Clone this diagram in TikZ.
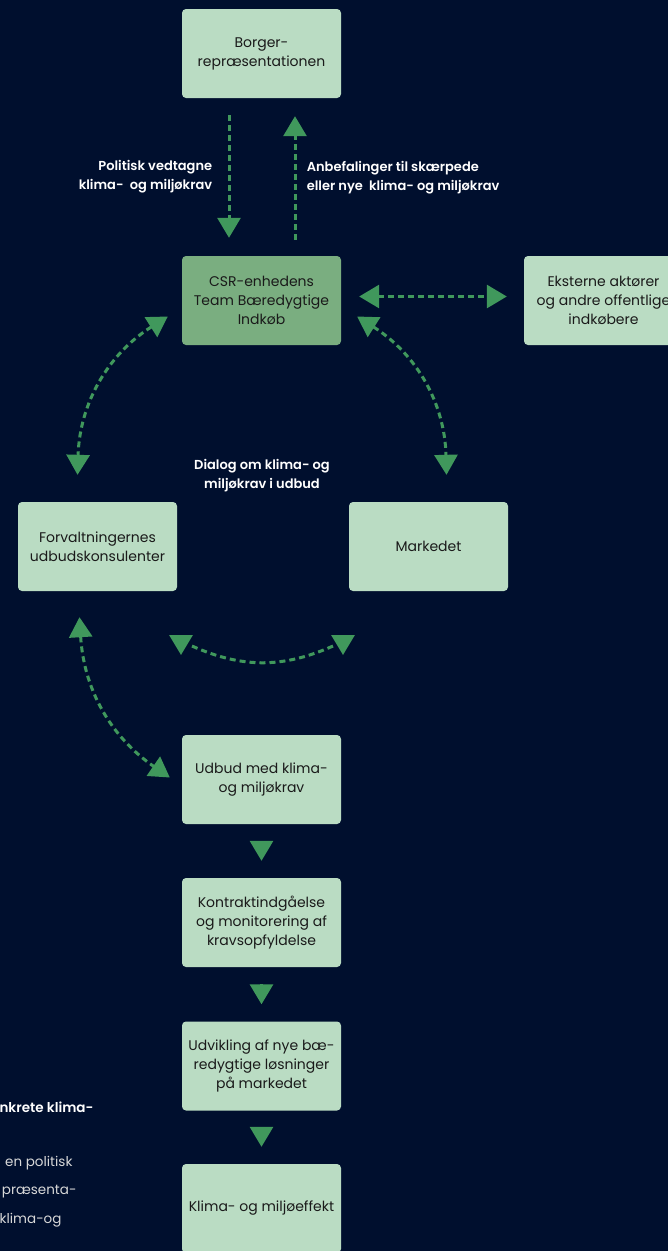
\documentclass[tikz,border=0pt]{standalone}
\usepackage{fontspec}
\setmainfont{Poppins}[BoldFont=Poppins SemiBold]
\usetikzlibrary{arrows.meta}

\definecolor{bgnavy}{HTML}{000F2E}
\definecolor{boxgreen}{HTML}{BADCC3}
\definecolor{csrgreen}{HTML}{7AAE80}
\definecolor{arrowgreen}{HTML}{40985C}
\definecolor{boxtext}{HTML}{1A1A1A}
\definecolor{notegray}{HTML}{D8D8D8}

\begin{document}
\begin{tikzpicture}[x=1pt, y=-1pt, >={Triangle[length=20pt,width=23pt]},
    box/.style={rectangle, rounded corners=4pt, fill=boxgreen, minimum width=159pt, minimum height=89pt, align=center, text=boxtext, font=\fontsize{14}{19}\selectfont},
    lbl/.style={text=white, font=\bfseries\fontsize{13}{19}\selectfont},
    dialog/.style={draw=arrowgreen, line width=3pt, dash pattern=on 6pt off 4pt},
    flowstep/.style={draw=arrowgreen, line width=3pt, ->, shorten <=17pt, shorten >=17pt},
    arrowhead/.style={draw=arrowgreen, line width=3pt, ->}]
        \fill[bgnavy] (0,0) rectangle (668,1251);
        \useasboundingbox (0,0) rectangle (668,1251);

        \node[box] (borger) at (261.5, 53.5) {Borger-\\repræsentationen};
        \node[box, fill=csrgreen] (csr) at (261.5, 300.5) {CSR-enhedens\\Team Bæredygtige\\Indkøb};
        \node[box] (eksterne) at (603.5, 300.5) {Eksterne aktører\\og andre offentlige\\indkøbere};
        \node[box] (forvalt) at (97.5, 546.5) {Forvaltningernes\\udbudskonsulenter};
        \node[box] (markedet) at (428.5, 546.5) {Markedet};
        \node[box] (udbud) at (261.5, 779.5) {Udbud med klima-\\og miljøkrav};
        \node[box] (kontrakt) at (261.5, 922.5) {Kontraktindgåelse\\og monitorering af\\kravsopfyldelse};
        \node[box] (udvikling) at (261.5, 1066) {Udvikling af nye bæ-\\redygtige løsninger\\på markedet};
        \node[box] (effekt) at (261.5, 1208.5) {Klima- og miljøeffekt};

        \draw[dialog, ->] ([xshift=-32.5pt, yshift=-17pt]borger.south) -- node[lbl, left=12pt, align=right]{Politisk vedtagne\\klima-\ \ og miljøkrav} ([xshift=-32.5pt, yshift=18pt]csr.north);
        \draw[dialog, ->] ([xshift=33.5pt, yshift=16pt]csr.north) -- node[lbl, right=7pt, align=left]{Anbefalinger til skærpede\\eller nye\ \ klima- og miljøkrav} ([xshift=33.5pt, yshift=-18pt]borger.south);
        \draw[dialog, <->] ([shift={(18,-4)}]csr.east) -- ([shift={(-17,-4)}]eksterne.west);

        \draw[dialog, <->] ([shift={(-14,16)}]csr.west) to[bend right=28] ([shift={(-20,-27)}]forvalt.north);
        \draw[dialog, <->] ([shift={(16,16)}]csr.east) to[bend left=28] ([shift={(18,-27)}]markedet.north);
        \draw[dialog, <->] ([shift={(-18,26)}]forvalt.south) to[bend right=26] ([shift={(-12,-2)}]udbud.west);

        \node[lbl, align=center] (dialogtxt) at (262, 476) {Dialog om klima- og\\miljøkrav i udbud};

        \coordinate (dl) at (192, 646);
        \coordinate (dr) at (333, 646);
        \draw[dialog] (dl) to[bend right=24] (dr);
        \draw[arrowhead] (181, 635) -- (181, 655);
        \draw[arrowhead] (343, 635) -- (343, 655);

        \draw[flowstep] (udbud) -- (kontrakt);
        \draw[flowstep] (kontrakt) -- (udvikling);
        \draw[flowstep] (udvikling) -- (effekt);

        % tekst skaaret af ved venstre kant
        \node[anchor=east, text=white, font=\bfseries\fontsize{13.5}{20}\selectfont] (konkret) at (97, 1107) {nkrete klima-};
        \node[anchor=east, text=notegray, font=\fontsize{13.5}{20}\selectfont] (politisk) at (76, 1163) {en politisk};
        \node[anchor=east, text=notegray, font=\fontsize{13.5}{20}\selectfont] (praesenta) at (80, 1192) {præsenta-};
        \node[anchor=east, text=notegray, font=\fontsize{13.5}{20}\selectfont] (klimaog) at (65, 1220) {klima-og};
    \end{tikzpicture}
\end{document}
